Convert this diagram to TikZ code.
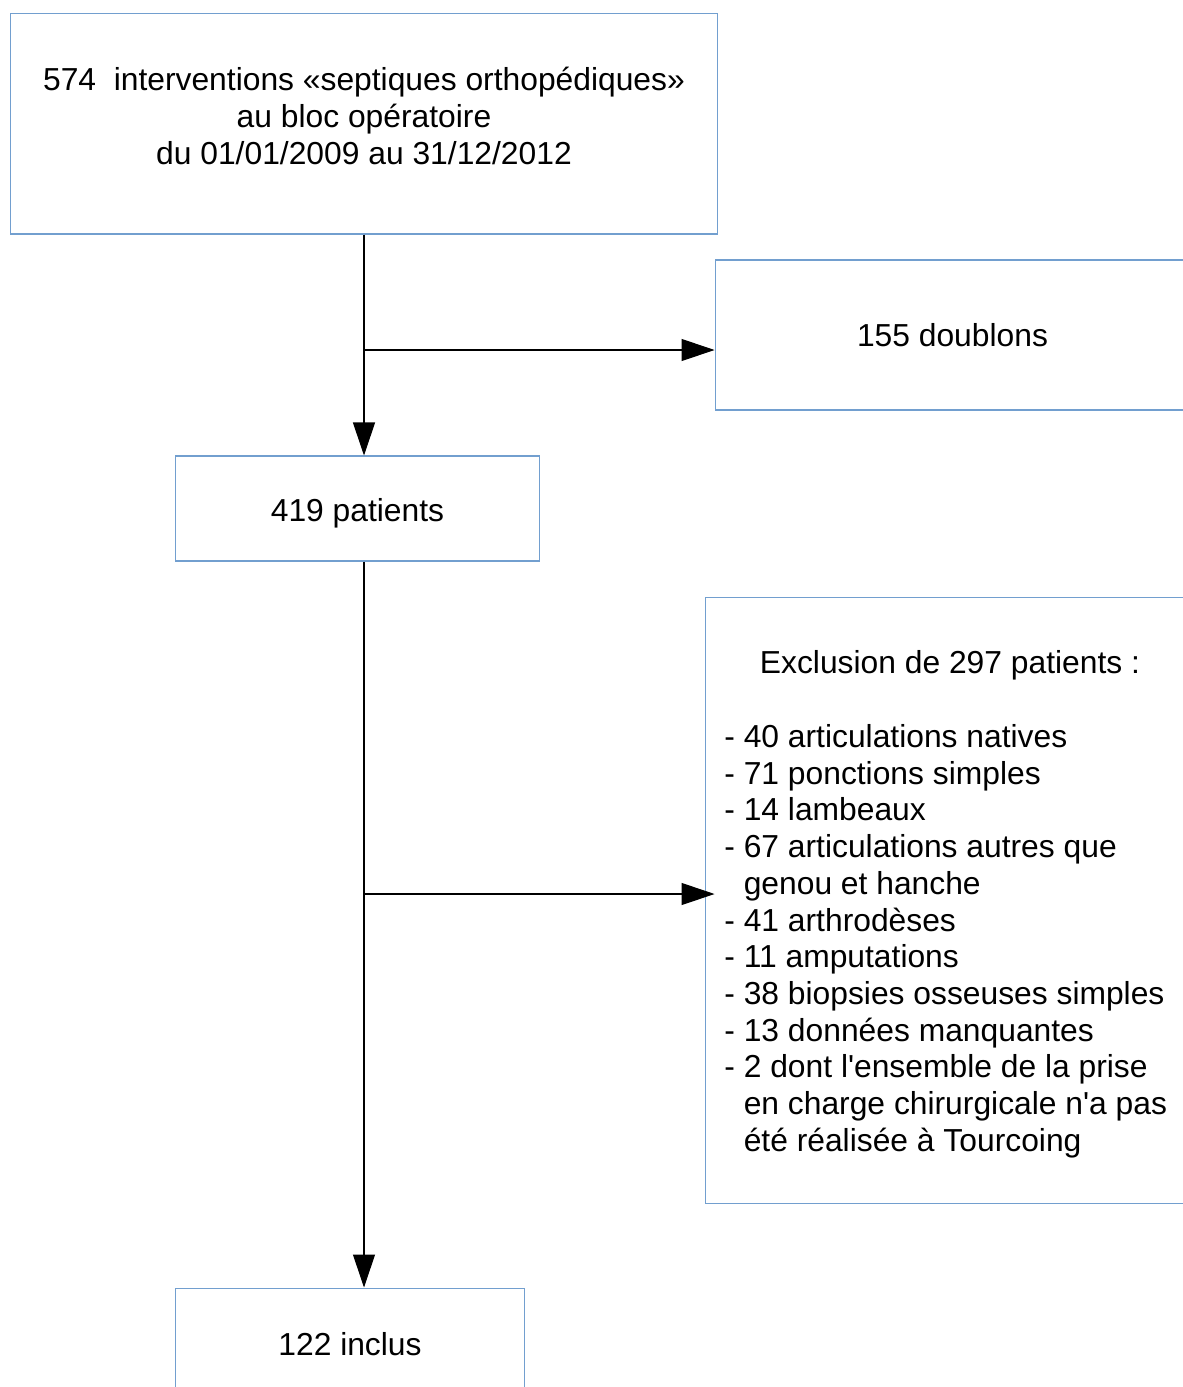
\documentclass[tikz,border=0pt]{standalone}
\usepackage{fontspec}
\setmainfont{Liberation Sans}[Ligatures=TeXOff]
\usetikzlibrary{arrows.meta}
\definecolor{bordure}{HTML}{729FCF}
\begin{document}
\begin{tikzpicture}[x=0.02cm, y=-0.02cm,
    font=\fontsize{18.1}{20.9}\selectfont,
    boite/.style={draw=bordure, line width=0.6pt, inner sep=0pt},
    fleche/.style={-{Triangle[length=0.66cm,width=0.44cm]}, line width=0.6pt}]
        \useasboundingbox (0,0) rectangle (1183,1387);
        \clip (0,0) rectangle (1183,1387);

        % Boites
        \node[boite, minimum width=14.16cm, minimum height=4.42cm] (interv) at (364,123.5) {};
        \node[align=center] (intervTexte) at (364,116) {574\ \ interventions «septiques orthopédiques»\\au bloc opératoire\\du 01/01/2009 au 31/12/2012};

        \node[boite, minimum width=9.5cm, minimum height=3cm] (doublons) at (952.5,335) {155 doublons};

        \node[boite, minimum width=7.3cm, minimum height=2.1cm, text height=0.665cm, text depth=0.134cm] (patients) at (357.5,508.5) {419 patients};

        \node[boite, minimum width=9.7cm, minimum height=12.14cm] (exclus) at (947.5,900.5) {};
        \node (exclusTitre) at (950,665) {Exclusion de 297 patients :};
        \node[align=left, anchor=north west, inner sep=0pt] (exclusListe) at (724,724) {%
            - 40 articulations natives\\
            - 71 ponctions simples\\
            - 14 lambeaux\\
            - 67 articulations autres que\\
            \hphantom{- }genou et hanche\\
            - 41 arthrodèses\\
            - 11 amputations\\
            - 38 biopsies osseuses simples\\
            - 13 données manquantes\\
            - 2 dont l'ensemble de la prise\\
            \hphantom{- }en charge chirurgicale n'a pas\\
            \hphantom{- }été réalisée à Tourcoing};

        \node[boite, minimum width=7cm, minimum height=2.24cm] (inclus) at (350,1344) {122 inclus};

        % Fleches
        \coordinate (b1) at (364,350);
        \coordinate (b2) at (364,894);
        \draw[fleche] (interv.south) -- (interv.south |- patients.north);
        \draw[fleche] (b1) -- (b1 -| doublons.west);
        \draw[fleche] (interv.south |- patients.south) -- (interv.south |- inclus.north);
        \draw[fleche] (b2) -- (b2 -| doublons.west);
    \end{tikzpicture}
\end{document}
